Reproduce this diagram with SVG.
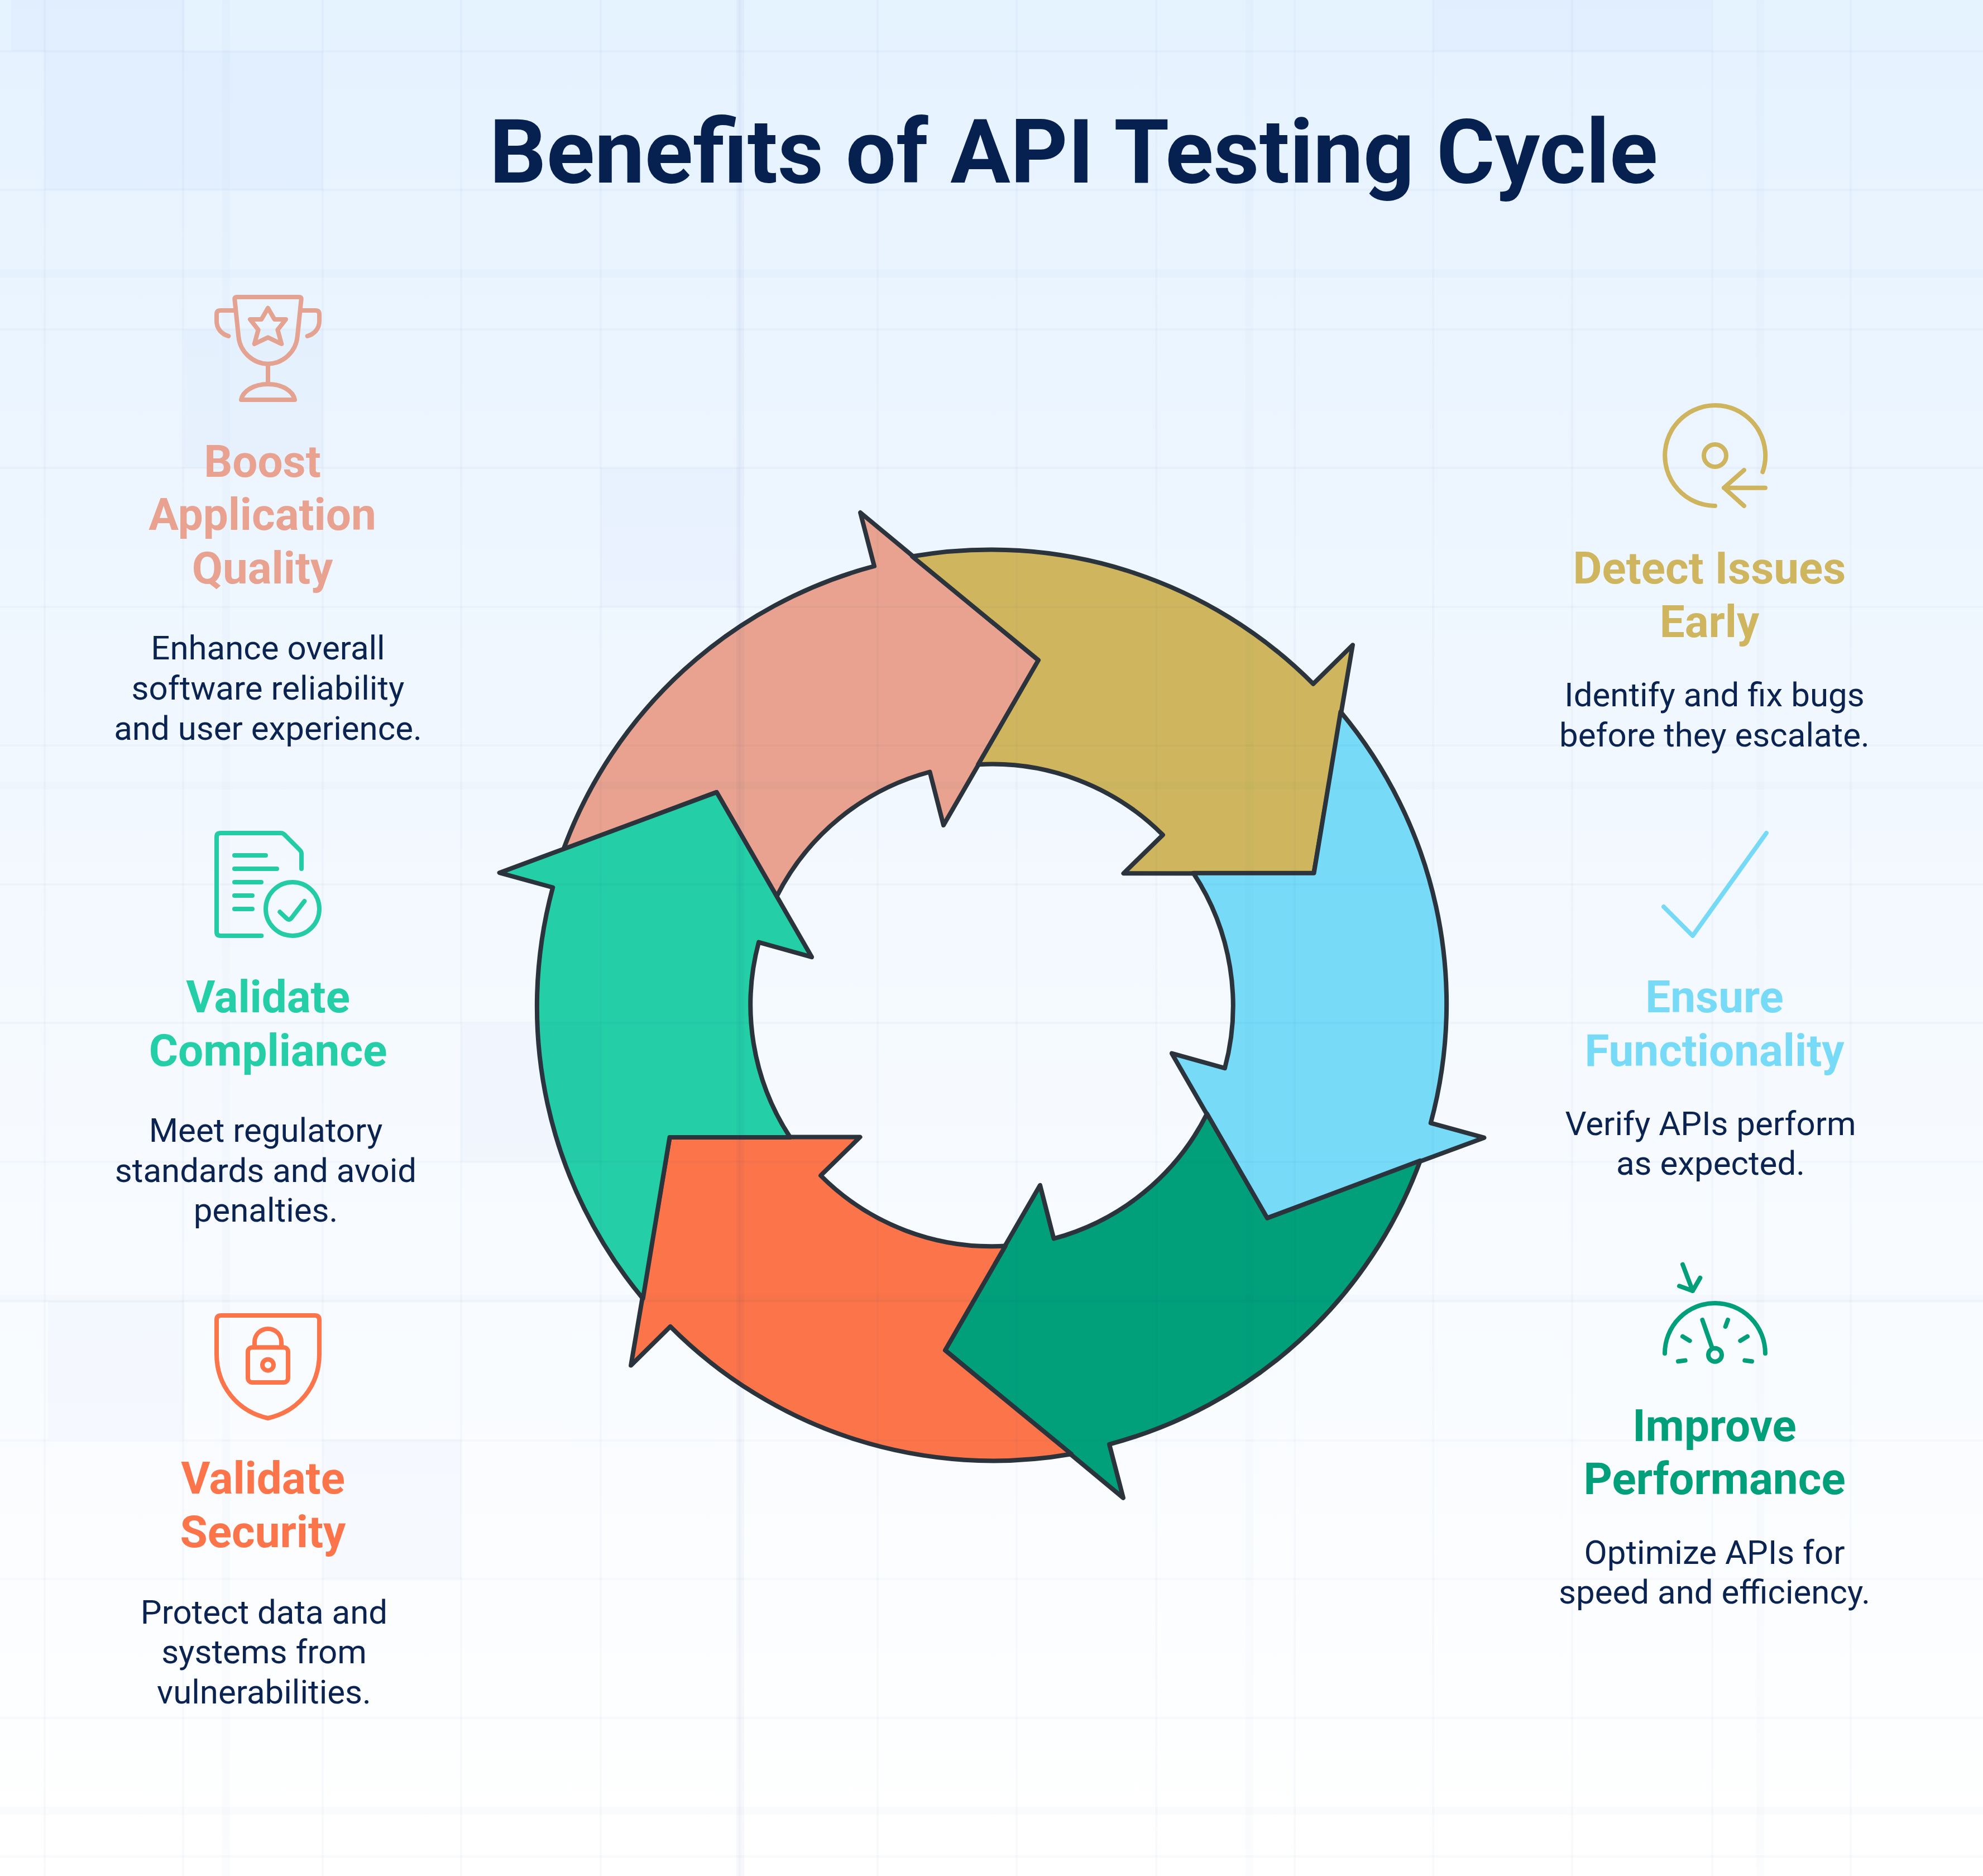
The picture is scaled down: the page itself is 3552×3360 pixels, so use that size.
<svg xmlns="http://www.w3.org/2000/svg" xmlns:xlink="http://www.w3.org/1999/xlink" width="3552" height="3360" viewBox="0 0 3552 3360">
<style>
text{font-family:Roboto,"Liberation Sans",sans-serif;text-anchor:middle}
.title{font-size:160px;font-weight:700;fill:#06214f}
.h{font-size:80px;font-weight:700}
.b{font-size:60px;font-weight:400;fill:#0a2350}
.arrow{stroke:#2b333c;stroke-width:8;stroke-linejoin:round}
.ic{fill:none;stroke-width:24;stroke-linecap:round;stroke-linejoin:round}
.grid line{stroke:#123f8c;stroke-opacity:.022;stroke-width:4}
.grid .t{stroke-opacity:.016;stroke-width:14}
.tile{fill:#1a5fc8;fill-opacity:.022}
</style>
<defs>
<linearGradient id="bg" x1="0" y1="0" x2="0" y2="1"><stop offset="0" stop-color="#e5f2ff"/><stop offset=".5" stop-color="#f4f9ff"/><stop offset="1" stop-color="#ffffff"/></linearGradient>
<path id="arrow" d="M1391 1606A432 432 0 0 1 1665.500 1382.500L1690 1478L1860.500 1183L1541 918L1566 1014A816 816 0 0 0 1009 1522L1283 1419Z"/>
</defs>
<rect id="background" width="3552" height="3360" fill="url(#bg)"/>
<g id="connectors">
<use id="arrow-quality" class="arrow" xlink:href="#arrow" href="#arrow" fill="#e8a28f"/>
<use id="arrow-detect" class="arrow" xlink:href="#arrow" href="#arrow" fill="#cfb65e" transform="rotate(60 1776.500 1800.400)"/>
<use id="arrow-functionality" class="arrow" xlink:href="#arrow" href="#arrow" fill="#77dbf7" transform="rotate(120 1776.500 1800.400)"/>
<use id="arrow-performance" class="arrow" xlink:href="#arrow" href="#arrow" fill="#01a07a" transform="rotate(180 1776.500 1800.400)"/>
<use id="arrow-security" class="arrow" xlink:href="#arrow" href="#arrow" fill="#fb744a" transform="rotate(240 1776.500 1800.400)"/>
<use id="arrow-compliance" class="arrow" xlink:href="#arrow" href="#arrow" fill="#24cea6" transform="rotate(300 1776.500 1800.400)"/>
</g>
<g id="overlay">
<rect class="tile" x="20" y="0" width="310" height="92"/>
<rect class="tile" x="80" y="92" width="498" height="248"/>
<rect class="tile" x="330" y="590" width="248" height="248"/>
<rect class="tile" x="1076" y="838" width="249" height="249"/>
<rect class="tile" x="826" y="1834" width="250" height="247"/>
<rect class="tile" x="86" y="2330" width="244" height="248"/>
<rect class="tile" x="578" y="2578" width="248" height="249"/>
<rect class="tile" x="2567" y="0" width="498" height="92"/>
<g class="grid">
<line x1="80" y1="0" x2="80" y2="3360"/><line x1="328" y1="0" x2="328" y2="3360"/><line x1="578" y1="0" x2="578" y2="3360"/><line x1="826" y1="0" x2="826" y2="3360"/><line x1="1076" y1="0" x2="1076" y2="3360"/><line x1="1325" y1="0" x2="1325" y2="3360"/><line x1="1572" y1="0" x2="1572" y2="3360"/><line x1="1821" y1="0" x2="1821" y2="3360"/><line x1="2071" y1="0" x2="2071" y2="3360"/><line x1="2319" y1="0" x2="2319" y2="3360"/><line x1="2567" y1="0" x2="2567" y2="3360"/><line x1="2816" y1="0" x2="2816" y2="3360"/><line x1="3067" y1="0" x2="3067" y2="3360"/><line x1="3315" y1="0" x2="3315" y2="3360"/>
<line x1="0" y1="92" x2="3552" y2="92"/><line x1="0" y1="340" x2="3552" y2="340"/><line x1="0" y1="590" x2="3552" y2="590"/><line x1="0" y1="838" x2="3552" y2="838"/><line x1="0" y1="1087" x2="3552" y2="1087"/><line x1="0" y1="1335" x2="3552" y2="1335"/><line x1="0" y1="1584" x2="3552" y2="1584"/><line x1="0" y1="1832" x2="3552" y2="1832"/><line x1="0" y1="2081" x2="3552" y2="2081"/><line x1="0" y1="2330" x2="3552" y2="2330"/><line x1="0" y1="2580" x2="3552" y2="2580"/><line x1="0" y1="2828" x2="3552" y2="2828"/><line x1="0" y1="3077" x2="3552" y2="3077"/><line x1="0" y1="3325" x2="3552" y2="3325"/>
<line class="t" x1="405" y1="0" x2="405" y2="3360"/><line class="t" x1="1326" y1="0" x2="1326" y2="3360" style="stroke-opacity:.035"/><line class="t" x1="2238" y1="0" x2="2238" y2="3360"/><line class="t" x1="3153" y1="0" x2="3153" y2="3360"/>
<line class="t" x1="0" y1="490" x2="3552" y2="490"/><line class="t" x1="0" y1="1407" x2="3552" y2="1407"/><line class="t" x1="0" y1="2326" x2="3552" y2="2326"/><line class="t" x1="0" y1="3243" x2="3552" y2="3243"/>
</g>
</g>
<text id="title" class="title" x="1923" y="327">Benefits of API Testing Cycle</text>
<g id="node-quality">
<g class="ic" stroke="#e4a291" transform="translate(340 500) scale(.3333)">
<path d="M252 96H588Q600 96 599 108L578 310C570 390 500 455 420 455C340 455 270 390 262 310L241 108Q240 96 252 96Z"/>
<path d="M240 168H165Q144 168 144 190V225C144 265 170 295 208 306M600 168H675Q696 168 696 190V225C696 265 670 295 632 306M420 455V565"/>
<path d="M276 648C285 600 345 564 420 564C495 564 555 600 564 648Z"/>
<path d="M420 155L455 216H516L472 272L493 348L420 313L347 348L368 272L324 216H385Z"/>
</g>
<text class="h" fill="#e8a28f" x="470" y="854">Boost</text><text class="h" fill="#e8a28f" x="470" y="949">Application</text><text class="h" fill="#e8a28f" x="470" y="1045">Quality</text>
<text class="b" x="480" y="1181">Enhance overall</text><text class="b" x="480" y="1253">software reliability</text><text class="b" x="480" y="1325">and user experience.</text>
</g>
<g id="node-compliance">
<g class="ic" stroke="#24cca5" transform="translate(340 1460) scale(.3333)">
<path d="M385 648H165Q144 648 144 627V117Q144 96 165 96H490Q500 96 508 104L590 186Q600 196 600 206V288"/>
<path d="M240 216H408M240 288H468M240 360H384M240 432H336M240 504H336"/>
<circle cx="552" cy="504" r="144"/>
<path d="M484 520L520 555Q533 568 546 553L616 462"/>
</g>
<text class="h" fill="#24cea6" x="480" y="1813">Validate</text><text class="h" fill="#24cea6" x="480" y="1909">Compliance</text>
<text class="b" x="476" y="2045">Meet regulatory</text><text class="b" x="476" y="2117">standards and avoid</text><text class="b" x="476" y="2188">penalties.</text>
</g>
<g id="node-security">
<g class="ic" stroke="#fb744a" transform="translate(340 2310) scale(.3333)">
<path d="M168 138H672Q696 138 696 162V345C696 520 580 655 420 690C260 655 144 520 144 345V162Q144 138 168 138Z"/>
<rect x="312" y="310" width="216" height="188" rx="24"/>
<path d="M348 310V282C348 240 380 210 420 210C460 210 492 240 492 282V310"/>
<circle cx="420" cy="404" r="30"/>
</g>
<text class="h" fill="#fb744a" x="471" y="2675">Validate</text><text class="h" fill="#fb744a" x="471" y="2771">Security</text>
<text class="b" x="473" y="2908">Protect data and</text><text class="b" x="473" y="2979">systems from</text><text class="b" x="473" y="3051">vulnerabilities.</text>
</g>
<g id="node-detect">
<g class="ic" stroke="#cfb45e" transform="translate(2940 700) scale(.3333)">
<path d="M396 618A270 270 0 1 1 652 436"/>
<circle cx="396" cy="348" r="60"/>
<path d="M666 521H444M552 426L444 521L552 618"/>
</g>
<text class="h" fill="#cfb65e" x="3062" y="1045">Detect Issues</text><text class="h" fill="#cfb65e" x="3062" y="1141">Early</text>
<text class="b" x="3071" y="1265">Identify and fix bugs</text><text class="b" x="3071" y="1337">before they escalate.</text>
</g>
<g id="node-functionality">
<path class="ic" stroke="#76daf7" transform="translate(2940 1460) scale(.3333)" d="M120 492L276 648L672 96"/>
<text class="h" fill="#77dbf7" x="3071" y="1813">Ensure</text><text class="h" fill="#77dbf7" x="3071" y="1909">Functionality</text>
<text class="b" x="3064" y="2033">Verify APIs perform</text><text class="b" x="3064" y="2104">as expected.</text>
</g>
<g id="node-performance">
<g class="ic" stroke="#02a07a" transform="translate(2940 2240) scale(.3333)">
<path d="M126 552A270 270 0 0 1 666 552"/>
<path d="M328 372L378 515"/>
<circle cx="396" cy="560" r="36"/>
<path d="M222 461L260 484M198 595L236 590M570 461L532 484M594 595L556 590M465 372L452 408"/>
<path d="M222 74L276 216M204 190L276 216L316 146"/>
</g>
<text class="h" fill="#02a07a" x="3071" y="2581">Improve</text><text class="h" fill="#02a07a" x="3071" y="2676">Performance</text>
<text class="b" x="3071" y="2801">Optimize APIs for</text><text class="b" x="3071" y="2872">speed and efficiency.</text>
</g>
</svg>
